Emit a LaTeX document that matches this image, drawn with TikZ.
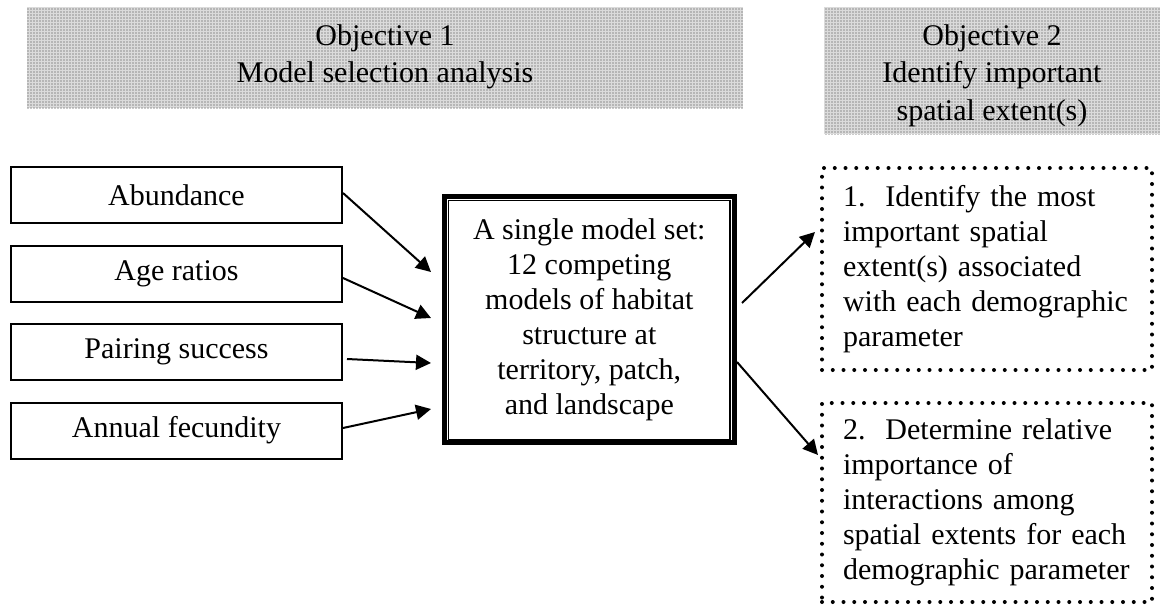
\documentclass[tikz,border=0pt]{standalone}
\usepackage{fontspec}
\setmainfont{Liberation Serif}
\usetikzlibrary{arrows.meta,patterns.meta}

% fine stipple used for the shaded objective banners
\tikzdeclarepattern{
  name=stipple, type=uncolored,
  bounding box={(0pt,0pt) and (1.2pt,1.2pt)},
  tile size={(1.2pt,1.2pt)},
  code={\fill (0.25pt,0.25pt) rectangle (0.85pt,0.85pt);}
}

\begin{document}
\begin{tikzpicture}[
  x=0.4pt, y=-0.4pt,
  font=\fontsize{12}{14}\selectfont,
  banner/.style={draw=none, inner sep=0pt,
    preaction={fill=black!14}, pattern=stipple, pattern color=black!48},
  bannertext/.style={anchor=north, align=center, inner sep=0pt, yshift=-7pt,
    font=\fontsize{12}{15}\selectfont},
  parambox/.style={draw, line width=0.8pt, inner sep=0pt,
    minimum width=132.4pt, minimum height=22.4pt},
  modelbox/.style={draw, line width=2pt, inner sep=0pt, align=center,
    minimum width=115.8pt, minimum height=98.4pt},
  goalbox/.style={draw, line width=1.6pt, dash pattern=on 0pt off 4.3pt,
    line cap=round, inner ysep=0pt, inner xsep=8.4pt,
    text width=115.2pt, align=left, minimum width=132pt},
  arr/.style={-{Triangle[length=6pt,width=6pt]}, line width=0.8pt}
]
\useasboundingbox (0,0) rectangle (1160,607);

% objective banners
\node[banner, minimum width=286.4pt, minimum height=40.4pt,
  label={[bannertext]north:{Objective 1\\Model selection analysis}}]
  (obj1) at (385,57.5) {};
\node[banner, minimum width=134.4pt, minimum height=50.8pt,
  label={[bannertext]north:{Objective 2\\Identify important\\spatial extent(s)}}]
  (obj2) at (992,70.5) {};

% demographic parameters
\node[parambox] (abund) at (176.5,195)   {Abundance};
\node[parambox] (age)   at (176.5,274)   {Age ratios};
\node[parambox] (pair)  at (176.5,352)   {Pairing success};
\node[parambox] (fec)   at (176.5,430.5) {Annual fecundity};

% the model set, with its inner rule
\node[modelbox] (model) at (589.3,319.7)
  {A single model set:\\12 competing\\models of habitat\\structure at\\territory, patch,\\and landscape};
\draw[line width=0.5pt] ([shift={(6.5,6)}]model.north west)
  rectangle ([shift={(-6.5,-6)}]model.south east);

% goals of objective 2
\node[goalbox, minimum height=80.8pt] (goal1) at (987,269)
  {1.\ \ Identify the most\\important spatial\\extent(s) associated\\with each demographic\\parameter};
\node[goalbox, minimum height=79.6pt] (goal2) at (987,502.5)
  {2.\ \ Determine relative\\importance of\\interactions among\\spatial extents for each\\demographic parameter};

% arrow ends
\coordinate (in1) at (431,272);
\coordinate (in2) at (431,318);
\coordinate (in3) at (431,363);
\coordinate (in4) at (431,409);
\coordinate (out1) at (742,303);
\coordinate (out2) at (737,362);
\coordinate (to1) at (815,232);
\coordinate (to2) at (818,455);

\draw[arr] ([yshift=0.8pt]abund.east) -- (in1);
\draw[arr] ([yshift=-1.6pt]age.east) -- (in2);
\draw[arr] ([xshift=1.6pt,yshift=-2.8pt]pair.east) -- (in3);
\draw[arr] ([yshift=1pt]fec.east) -- (in4);
\draw[arr] (out1) -- (to1);
\draw[arr] (out2) -- (to2);
\end{tikzpicture}
\end{document}
